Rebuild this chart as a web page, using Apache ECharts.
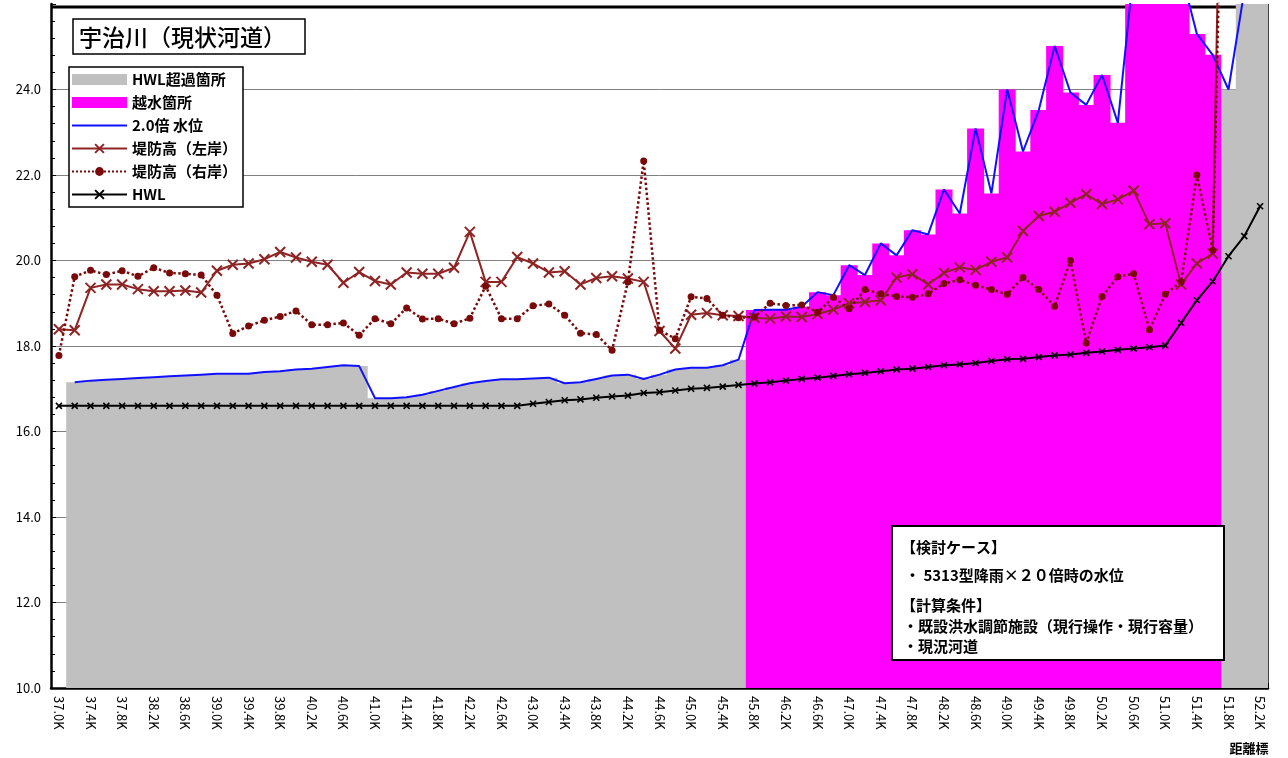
<!DOCTYPE html>
<html><head><meta charset="utf-8">
<script src="https://cdn.jsdelivr.net/npm/echarts@6/dist/echarts.min.js"></script>
<style>html,body{margin:0;padding:0;background:#fff}#c{width:1288px;height:758px}</style>
</head><body><div id="c"></div>
<script>
// ---- data ----
const categories = ['37.0K','37.2K','37.4K','37.6K','37.8K','38.0K','38.2K','38.4K','38.6K','38.8K',
'39.0K','39.2K','39.4K','39.6K','39.8K','40.0K','40.2K','40.4K','40.6K','40.8K',
'41.0K','41.2K','41.4K','41.6K','41.8K','42.0K','42.2K','42.4K','42.6K','42.8K',
'43.0K','43.2K','43.4K','43.6K','43.8K','44.0K','44.2K','44.4K','44.6K','44.8K',
'45.0K','45.2K','45.4K','45.6K','45.8K','46.0K','46.2K','46.4K','46.6K','46.8K',
'47.0K','47.2K','47.4K','47.6K','47.8K','48.0K','48.2K','48.4K','48.6K','48.8K',
'49.0K','49.2K','49.4K','49.6K','49.8K','50.0K','50.2K','50.4K','50.6K','50.8K',
'51.0K','51.2K','51.4K','51.6K','51.8K','52.0K','52.2K'];

// 2.0倍 水位
const waterLevel = [null,17.15,17.19,17.21,17.23,17.25,17.27,17.29,17.31,17.33,
17.35,17.35,17.35,17.39,17.41,17.45,17.47,17.51,17.55,17.53,
16.78,16.78,16.80,16.86,16.95,17.04,17.13,17.18,17.22,17.22,
17.24,17.26,17.13,17.15,17.23,17.31,17.33,17.23,17.33,17.45,
17.49,17.49,17.55,17.68,18.84,18.85,18.85,18.92,19.26,19.19,
19.89,19.66,20.40,20.12,20.71,20.61,21.66,21.10,23.09,21.57,
24.00,22.55,23.52,25.02,23.93,23.64,24.34,23.22,26.8,27.2,
27.4,26.74,25.30,24.81,24.00,26.3,27.5];

// H = HWL超過箇所, O = 越水箇所, - = none
const exceedType = ['-','H','H','H','H','H','H','H','H','H',
'H','H','H','H','H','H','H','H','H','H',
'H','H','H','H','H','H','H','H','H','H',
'H','H','H','H','H','H','H','H','H','H',
'H','H','H','H','O','O','O','O','O','O',
'O','O','O','O','O','O','O','O','O','O',
'O','O','O','O','O','O','O','O','O','O',
'O','O','O','O','H','H','H'];

// 堤防高（左岸）
const leftBank = [18.39,18.37,19.36,19.44,19.44,19.33,19.28,19.28,19.30,19.25,
19.76,19.90,19.93,20.03,20.20,20.07,19.97,19.90,19.48,19.73,
19.52,19.44,19.72,19.69,19.69,19.83,20.67,19.50,19.50,20.08,
19.93,19.72,19.75,19.44,19.59,19.63,19.58,19.50,18.35,17.94,
18.73,18.77,18.72,18.70,18.66,18.64,18.69,18.68,18.75,18.85,
19.00,19.03,19.07,19.60,19.68,19.44,19.71,19.84,19.78,19.97,
20.07,20.69,21.04,21.14,21.35,21.55,21.32,21.43,21.63,20.85,
20.87,19.44,19.93,20.16,40.0,null,null];

// 堤防高（右岸）
const rightBank = [17.78,19.62,19.77,19.67,19.76,19.63,19.83,19.71,19.69,19.66,
19.19,18.29,18.47,18.60,18.69,18.82,18.50,18.50,18.54,18.25,
18.64,18.52,18.89,18.63,18.64,18.52,18.65,19.40,18.64,18.64,
18.94,18.98,18.72,18.30,18.27,17.90,19.50,22.33,18.37,18.17,
19.15,19.11,18.72,18.66,18.68,19.00,18.95,18.96,18.79,19.14,
18.87,19.32,19.22,19.16,19.14,19.22,19.46,19.55,19.42,19.32,
19.21,19.60,19.32,18.93,20.00,18.07,19.16,19.62,19.69,18.38,
19.21,19.50,22.00,20.24,36.0,null,null];

// HWL
const hwl = [16.6,16.6,16.6,16.6,16.6,16.6,16.6,16.6,16.6,16.6,
16.6,16.6,16.6,16.6,16.6,16.6,16.6,16.6,16.6,16.6,
16.6,16.6,16.6,16.6,16.6,16.6,16.6,16.6,16.6,16.6,
16.65,16.69,16.73,16.75,16.79,16.82,16.84,16.90,16.92,16.96,
17.00,17.02,17.05,17.09,17.12,17.15,17.19,17.23,17.26,17.30,
17.34,17.37,17.41,17.45,17.47,17.51,17.55,17.57,17.60,17.65,
17.69,17.70,17.74,17.78,17.80,17.84,17.87,17.91,17.94,17.97,
18.01,18.54,19.07,19.51,20.10,20.57,21.27];

const yTicks = {min: 10, max: 26, interval: 2};
const titleText = '宇治川（現状河道）';
const noteLines = ['【検討ケース】','・ 5313型降雨×２０倍時の水位','【計算条件】','・既設洪水調節施設（現行操作・現行容量）','・現況河道'];

// ---- derived ----
const grayData = waterLevel.map((v, i) => exceedType[i] === 'H' ? v : null);
const magentaData = waterLevel.map((v, i) => exceedType[i] === 'O' ? v : null);

const FONT = '"Noto Sans CJK JP", "Noto Sans", sans-serif';
const xPath = 'path://M0,0L10,10M10,0L0,10';
const ZTOP = 100;

const chart = echarts.init(document.getElementById('c'), null, {renderer: 'canvas'});
chart.setOption({
  animation: false,
  backgroundColor: '#fff',
  textStyle: {fontFamily: FONT},
  grid: {left: 51, right: 20, top: 4, bottom: 70, containLabel: false},
  legend: {
    orient: 'vertical', left: 69, top: 67,
    backgroundColor: '#fff', borderColor: '#000', borderWidth: 1.5,
    padding: [5, 6, 5, 2], itemWidth: 55, itemHeight: 11, itemGap: 8,
    selectedMode: false,
    textStyle: {fontSize: 15, fontWeight: 'bold', color: '#000', fontFamily: FONT},
    data: [
      {name: 'HWL超過箇所', icon: 'rect'},
      {name: '越水箇所', icon: 'rect'},
      {name: '2.0倍 水位', itemStyle: {opacity: 0}},
      {name: '堤防高（左岸）'},
      {name: '堤防高（右岸）'},
      {name: 'HWL'}
    ]
  },
  xAxis: {
    type: 'category', data: categories, boundaryGap: true,
    axisLine: {lineStyle: {color: '#000', width: 2.5}},
    axisTick: {show: true, inside: true, interval: 0, length: 5, lineStyle: {color: '#000', width: 1}},
    axisLabel: {interval: 1, rotate: -90, fontSize: 13, color: '#000', margin: 8, fontFamily: FONT},
    splitLine: {show: false}
  },
  yAxis: {
    type: 'value', min: yTicks.min, max: yTicks.max, interval: yTicks.interval,
    axisLine: {show: true, lineStyle: {color: '#000', width: 2.5}},
    axisTick: {show: true, inside: true, length: 5, lineStyle: {color: '#000'}},
    minorTick: {show: true, splitNumber: 5, length: 4, lineStyle: {color: '#000'}},
    axisLabel: {fontSize: 13, color: '#000', margin: 10, showMaxLabel: false,
      formatter: v => v.toFixed(1), fontFamily: FONT},
    splitLine: {show: true, showMaxLine: false, lineStyle: {color: '#808080', width: 1}}
  },
  graphic: [
    {type: 'line', z: 0, shape: {x1: 51, y1: 7, x2: 1268, y2: 7}, style: {stroke: '#000', lineWidth: 3}},
    {type: 'line', z: 0, shape: {x1: 1268.5, y1: 4, x2: 1268.5, y2: 688}, style: {stroke: '#444', lineWidth: 1}},
    {type: 'rect', z: ZTOP, shape: {x: 73, y: 19, width: 232, height: 35}, style: {fill: '#fff', stroke: '#000', lineWidth: 1.5}},
    {type: 'text', z: ZTOP + 1, x: 79, y: 37, style: {text: titleText, font: '500 23px ' + FONT, fill: '#000', verticalAlign: 'middle'}},
    {type: 'rect', z: ZTOP, shape: {x: 892, y: 526, width: 332, height: 134}, style: {fill: '#fff', stroke: '#000', lineWidth: 2}},
    {type: 'text', z: ZTOP + 1, x: 901, y: 547, style: {text: noteLines[0], font: 'bold 15px ' + FONT, fill: '#000', verticalAlign: 'middle'}},
    {type: 'text', z: ZTOP + 1, x: 905, y: 575, style: {text: noteLines[1], font: 'bold 15px ' + FONT, fill: '#000', verticalAlign: 'middle'}},
    {type: 'text', z: ZTOP + 1, x: 901, y: 605, style: {text: noteLines[2], font: 'bold 15px ' + FONT, fill: '#000', verticalAlign: 'middle'}},
    {type: 'text', z: ZTOP + 1, x: 903, y: 626, style: {text: noteLines[3], font: 'bold 15px ' + FONT, fill: '#000', verticalAlign: 'middle'}},
    {type: 'text', z: ZTOP + 1, x: 903, y: 646, style: {text: noteLines[4], font: 'bold 15px ' + FONT, fill: '#000', verticalAlign: 'middle'}},
    {type: 'text', z: ZTOP, x: 1249, y: 748, style: {text: '距離標', font: 'bold 13px ' + FONT, fill: '#000', align: 'center', verticalAlign: 'middle'}}
  ],
  series: [
    {name: 'HWL超過箇所', type: 'bar', data: grayData, barWidth: 17, barGap: '-100%',
      itemStyle: {color: '#C0C0C0', borderWidth: 0}, clip: true, z: 1},
    {name: '越水箇所', type: 'bar', data: magentaData, barWidth: 17, barGap: '-100%',
      itemStyle: {color: '#FF00FF', borderWidth: 0}, clip: true, z: 1},
    {name: '2.0倍 水位', type: 'line', data: waterLevel, symbol: 'none', clip: true, z: 3,
      itemStyle: {color: '#1010FF'}, lineStyle: {color: '#1010FF', width: 2}},
    {name: '堤防高（左岸）', type: 'line', data: leftBank, clip: true, z: 4,
      symbol: xPath, symbolSize: 10, showSymbol: true, showAllSymbol: true,
      itemStyle: {color: '#8E2424', borderColor: '#8E2424', borderWidth: 2},
      lineStyle: {color: '#8E2424', width: 2}},
    {name: '堤防高（右岸）', type: 'line', data: rightBank, clip: true, z: 5,
      symbol: 'circle', symbolSize: 7, showSymbol: true, showAllSymbol: true,
      itemStyle: {color: '#7A0A0A'},
      lineStyle: {color: '#7A0A0A', width: 2.5, type: 'dotted'}},
    {name: 'HWL', type: 'line', data: hwl, clip: true, z: 6,
      symbol: xPath, symbolSize: 6, showSymbol: true, showAllSymbol: true,
      itemStyle: {color: '#000', borderColor: '#000', borderWidth: 1.6},
      lineStyle: {color: '#000', width: 2}}
  ]
});
</script></body></html>
